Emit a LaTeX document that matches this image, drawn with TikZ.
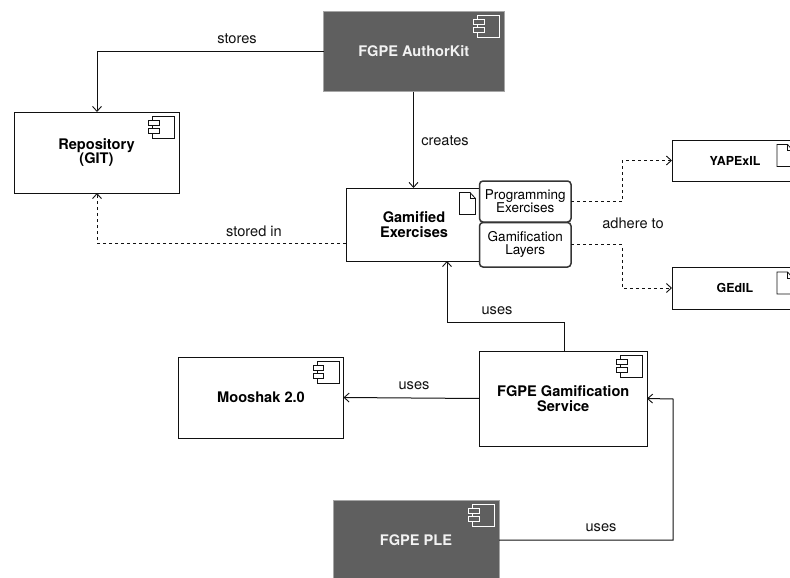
\documentclass[tikz,border=0pt]{standalone}
\usepackage{fontspec}
\setmainfont{TeX Gyre Heros}
\usetikzlibrary{arrows.meta}
\definecolor{darkfill}{HTML}{5F5F5F}
\definecolor{linecol}{HTML}{111111}
\tikzset{
  x=1pt,y=-1pt,
  boxbase/.style={draw=linecol,line width=1pt,fill=white,inner sep=0pt,outer sep=0pt,align=center,font=\bfseries\fontsize{14.6}{14.6}\selectfont},
  darkbox/.style={boxbase,draw=gray!70,line width=0.8pt,fill=darkfill,text=white!95!black},
  smallbox/.style={boxbase,font=\bfseries\fontsize{12.4}{14}\selectfont},
  partbox/.style={draw=linecol!85,line width=1.5pt,fill=white,rounded corners=3.5pt,inner sep=0pt,outer sep=0pt,align=center,minimum width=91.5pt,font=\fontsize{13.5}{13}\selectfont},
  conn/.style={line width=1pt,draw=linecol,-{Straight Barb[length=5pt,width=9pt,line width=0.9pt]}},
  dashconn/.style={conn,dash pattern=on 3pt off 3pt},
  lbl/.style={font=\fontsize{14.6}{14.6}\selectfont,text=linecol,inner sep=0pt},
  iconline/.style={draw=#1,line width=0.8pt},
  iconline/.default=linecol
}
% component icon: #1 box name, #2 stroke, #3 fill
\newcommand{\compicon}[3]{%
  \draw[iconline=#2] ([xshift=-26.5pt,yshift=-4.5pt]#1.north east) rectangle ([xshift=-4.5pt,yshift=-26.5pt]#1.north east);
  \draw[iconline=#2,fill=#3] ([xshift=-30.5pt,yshift=-8.5pt]#1.north east) rectangle ([xshift=-20pt,yshift=-13.5pt]#1.north east);
  \draw[iconline=#2,fill=#3] ([xshift=-30.5pt,yshift=-16.5pt]#1.north east) rectangle ([xshift=-20pt,yshift=-21.5pt]#1.north east);
}
% document icon: #1 top-left point
\newcommand{\docicon}[2]{%
  \draw[draw=linecol,line width=0.8pt,fill=white] (#1,#2) -- ++(10.5,0) -- ++(5.5,6) -- ++(0,16) -- ++(-16,0) -- cycle;
  \draw[draw=linecol,line width=0.8pt] (#1+10.5,#2) -- ++(0,6) -- ++(5.5,0);
}
\begin{document}
\begin{tikzpicture}
\useasboundingbox (0,0) rectangle (790,578);
\clip (0,0) rectangle (790,578);
\node[darkbox,minimum width=180.5pt,minimum height=80.5pt] (author) at (413.75,51.25) {FGPE AuthorKit};
\node[boxbase,minimum width=165pt,minimum height=81pt] (repo) at (96.5,152.5) {Repository\\(GIT)};
\node[boxbase,minimum width=136pt,minimum height=73pt] (gam) at (414,224.5) {Gamified\\Exercises};
\node[smallbox,minimum width=126pt,minimum height=41pt] (yap) at (735,160.5) {YAPExIL};
\node[smallbox,minimum width=126pt,minimum height=42pt] (ged) at (735,288) {GEdIL};
\node[boxbase,minimum width=167.5pt,minimum height=95pt] (serv) at (563.25,398.5) {FGPE Gamification\\Service};
\node[boxbase,minimum width=165pt,minimum height=81pt] (moo) at (261,397.5) {Mooshak 2.0};
\node[darkbox,minimum width=166pt,minimum height=80pt] (ple) at (416,540) {FGPE PLE};
\node[partbox,minimum height=41pt] (prog) at (525.25,201.5) {Programming\\Exercises};
\node[partbox,minimum height=44.5pt] (layer) at (525.25,244.75) {Gamification\\Layers};
\compicon{author}{white}{darkfill}
\compicon{repo}{linecol}{white}
\compicon{serv}{linecol}{white}
\compicon{moo}{linecol}{white}
\compicon{ple}{white}{darkfill}
\docicon{459.5}{192.5}
\docicon{777}{144.5}
\docicon{777}{272}
\coordinate (gamw) at (346,243);
\coordinate (servn) at (564,351);
\coordinate (gams) at (447,261);
\coordinate (gamn) at (413.5,188);
\coordinate (authors) at (413.5,91.5);
\coordinate (repon) at (97,112);
\coordinate (repos) at (97,193);
\draw[conn] (author.west) -- (repon |- author.west) -- (repon);
\draw[conn] (authors) -- (gamn);
\draw[dashconn] (gamw) -- (repos |- gamw) -- (repos);
\draw[conn] (servn) -- (564,322) -- (447,322) -- (gams);
\draw[conn] (serv.west) -- (moo.east);
\draw[conn] (ple.east) -- (673,540) -- (673,399) -- (serv.east);
\draw[dashconn] (prog.east) -- (622,201.5) -- (622,160.5) -- (yap.west);
\draw[dashconn] (layer.east) -- (622,244.75) -- (622,288) -- (ged.west);
\node[lbl] (l1) at (237,39) {stores};
\node[lbl] (l2) at (445,141) {creates};
\node[lbl] (l3) at (254,231) {stored in};
\node[lbl] (l4) at (633,223) {adhere to};
\node[lbl] (l5) at (497,311) {uses};
\node[lbl] (l6) at (414,386) {uses};
\node[lbl] (l7) at (601,528) {uses};
\end{tikzpicture}
\end{document}
